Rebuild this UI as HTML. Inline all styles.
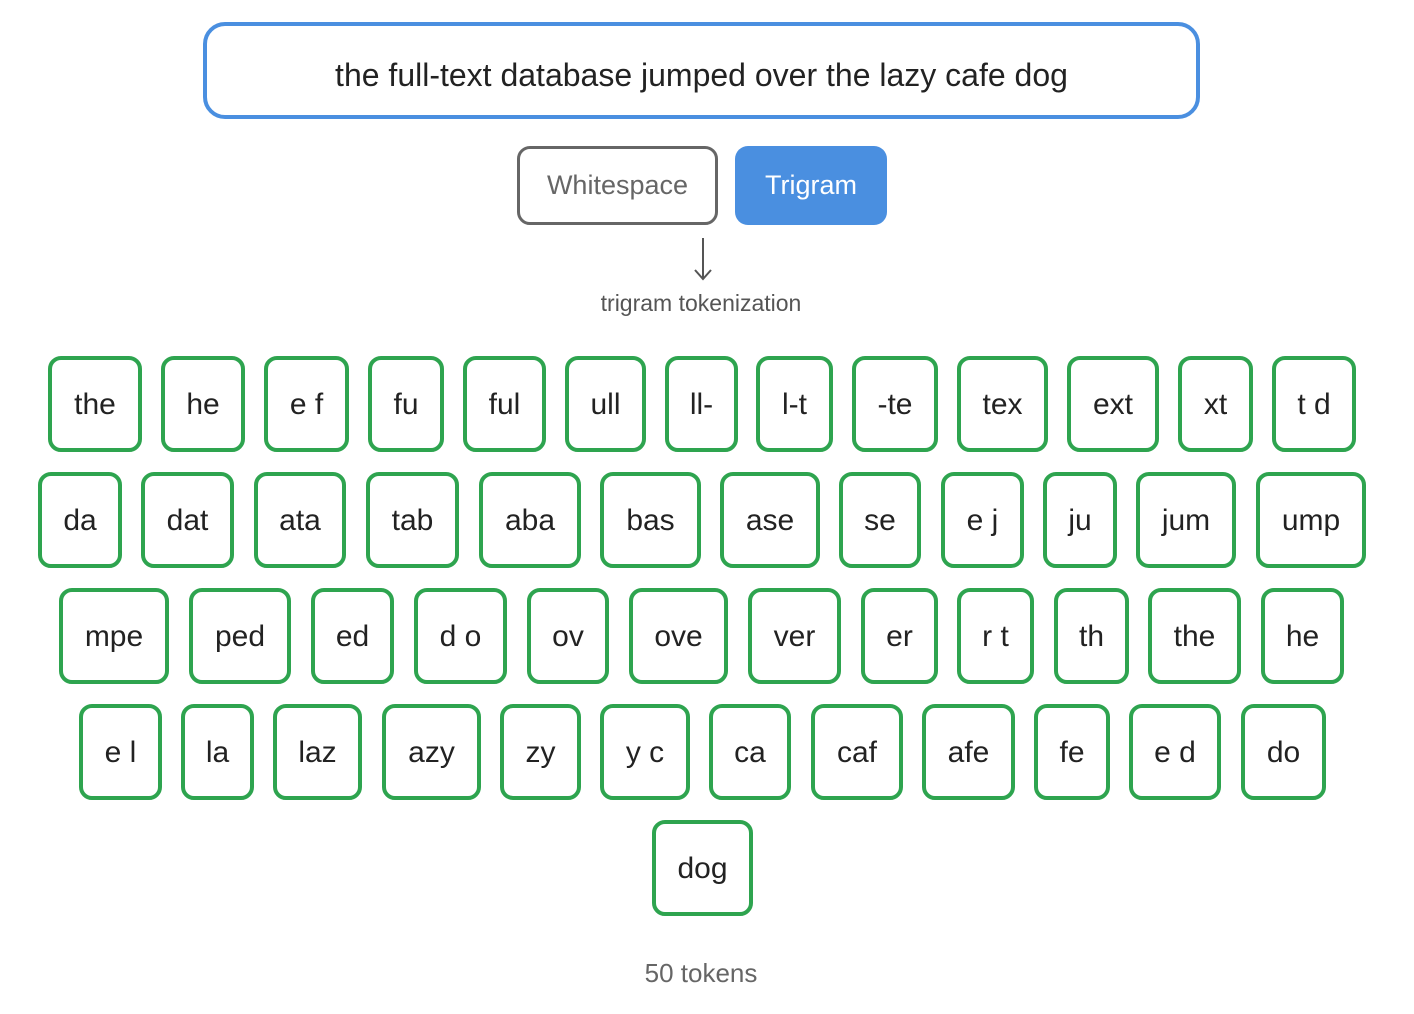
<!DOCTYPE html>
<html><head><meta charset="utf-8"><style>
body{margin:0;width:1414px;height:1014px;background:#fff;font-family:"Liberation Sans",Arial,sans-serif;position:relative;overflow:hidden}
.a{position:absolute;box-sizing:border-box;display:flex;align-items:center;justify-content:center}
.t{border:4.5px solid #2ea44f;border-radius:13px;font-size:30px;color:#222;height:96px;padding-top:2px}
</style></head><body>
<div class="a" style="left:203px;top:22px;width:997px;height:97px;border:4.5px solid #4a8fe0;border-radius:22px;font-size:32px;color:#222;padding-top:10px">the full-text database jumped over the lazy cafe dog</div>
<div class="a" style="left:517px;top:146px;width:201px;height:79px;border:3.5px solid #666;border-radius:13px;font-size:27px;color:#666">Whitespace</div>
<div class="a" style="left:735px;top:146px;width:152px;height:79px;background:#4a8fe0;border-radius:13px;font-size:27px;color:#fff">Trigram</div>
<svg class="a" style="left:690px;top:236px" width="26" height="48"><line x1="13" y1="2" x2="13" y2="43" stroke="#555" stroke-width="2"/><polyline points="5,34 13,43 21,34" fill="none" stroke="#555" stroke-width="2"/></svg>
<div class="a" style="left:450px;top:289px;width:502px;height:28px;font-size:23px;color:#555">trigram tokenization</div>
<div id="c"></div>
<div class="a" style="left:500px;top:958px;width:402px;height:30px;font-size:26px;color:#666">50 tokens</div>
<script>
var rows=[[356,[[48,141,"the"],[161,244,"he"],[264,348,"e f"],[368,443,"fu"],[463,545,"ful"],[565,645,"ull"],[665,737,"ll-"],[756,832,"l-t"],[852,937,"-te"],[957,1047,"tex"],[1067,1158,"ext"],[1178,1252,"xt"],[1272,1355,"t d"]]],
[472,[[38,121,"da"],[141,233,"dat"],[254,345,"ata"],[366,458,"tab"],[479,580,"aba"],[600,700,"bas"],[720,819,"ase"],[839,920,"se"],[941,1023,"e j"],[1043,1116,"ju"],[1136,1235,"jum"],[1256,1365,"ump"]]],
[588,[[59,168,"mpe"],[189,290,"ped"],[311,393,"ed"],[414,506,"d o"],[527,608,"ov"],[629,727,"ove"],[748,840,"ver"],[861,937,"er"],[957,1033,"r t"],[1054,1128,"th"],[1148,1240,"the"],[1261,1343,"he"]]],
[704,[[79,161,"e l"],[181,253,"la"],[273,361,"laz"],[382,480,"azy"],[500,580,"zy"],[600,689,"y c"],[709,790,"ca"],[811,902,"caf"],[922,1014,"afe"],[1034,1109,"fe"],[1129,1220,"e d"],[1241,1325,"do"]]],
[820,[[652,752,"dog"]]]];
var h="";rows.forEach(function(r){r[1].forEach(function(b){h+='<div class="a t" style="left:'+b[0]+'px;top:'+r[0]+'px;width:'+(b[1]-b[0]+1)+'px">'+b[2].replace(/ /g,"&nbsp;")+'</div>';});});
document.getElementById("c").innerHTML=h;
</script>
</body></html>
